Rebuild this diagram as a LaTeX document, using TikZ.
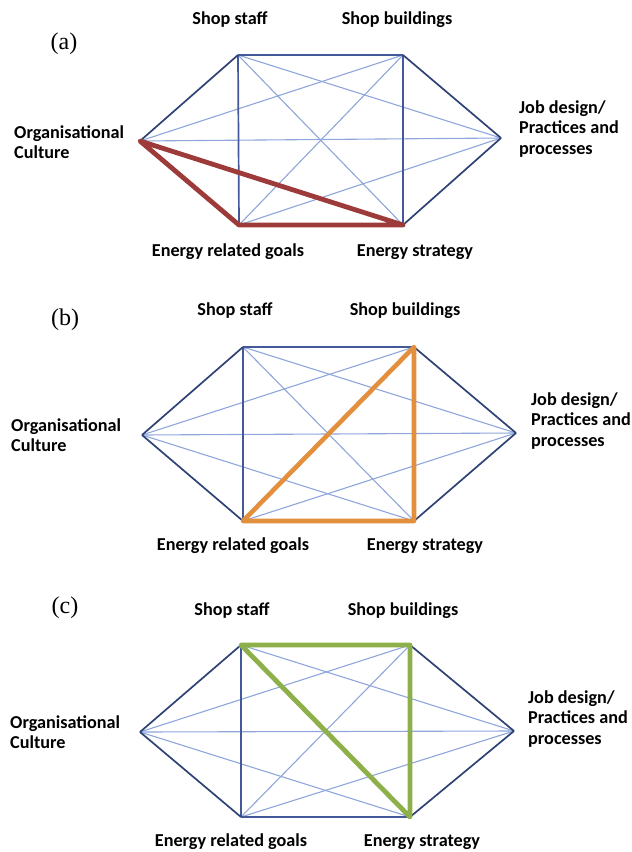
\documentclass[tikz,border=0pt]{standalone}
\usepackage{fontspec}
\setmainfont{Carlito}
\newfontfamily\panelfont{Liberation Serif}
\begin{document}
\begin{tikzpicture}[x=1pt,y=-1pt,
  outer/.style={draw=navyc,line width=1.7pt},
  side/.style={draw=sidec,line width=1.7pt},
  thin/.style={draw=lightc,line width=1.1pt},
  hlred/.style={draw=redc,line width=4.8pt,line cap=round,line join=round},
  hlorange/.style={draw=orangec,line width=4.6pt,line cap=round,line join=round},
  hlgreen/.style={draw=greenc,line width=4.8pt,line cap=round,line join=round},
  lbl/.style={font=\fontsize{18.2}{20.5}\selectfont\bfseries,inner sep=0pt},
  mlbl/.style={lbl,align=left,anchor=west},
  tag/.style={font=\panelfont\fontsize{24}{27}\selectfont,inner sep=0pt}]
\definecolor{navyc}{HTML}{2E4275}
\definecolor{sidec}{HTML}{44599A}
\definecolor{lightc}{HTML}{8EA6DA}
\definecolor{redc}{HTML}{9C3B3A}
\definecolor{orangec}{HTML}{E28F3E}
\definecolor{greenc}{HTML}{8DB04A}
\useasboundingbox (0,0) rectangle (632,852);
\newcommand{\drawgraph}[1]{%
  \draw[thin] (#1OC) -- (#1SB);
  \draw[thin] (#1OC) -- (#1JD);
  \draw[thin] (#1OC) -- (#1ES);
  \draw[thin] (#1SS) -- (#1ES);
  \draw[thin] (#1SS) -- (#1JD);
  \draw[thin] (#1SB) -- (#1EG);
  \draw[thin] (#1EG) -- (#1JD);
  \draw[side] (#1SS) -- (#1EG);
  \draw[side] (#1SB) -- (#1ES);
  \draw[side] (#1SS) -- (#1SB);
  \draw[side] (#1EG) -- (#1ES);
  \draw[outer] (#1OC) -- (#1SS);
  \draw[outer] (#1SB) -- (#1JD);
  \draw[outer] (#1JD) -- (#1ES);
  \draw[outer] (#1EG) -- (#1OC);
}
% ---------- panel (a)
\coordinate (aOC) at (140,141);
\coordinate (aSS) at (238,55);
\coordinate (aSB) at (403,55);
\coordinate (aJD) at (501,138);
\coordinate (aEG) at (239,225);
\coordinate (aES) at (403,225);
\drawgraph{a}
\draw[hlred] (aOC) -- (aEG) -- (aES) -- cycle;
\node[tag] (atag) at (64,44) {(a)};
\node[lbl] (aSSl) at (230,20) {Shop staff};
\node[lbl] (aSBl) at (397,20) {Shop buildings};
\node[mlbl] (aOCl) at (14,142) {Organisational\\Culture};
\node[mlbl] (aJDl) at (519,129) {Job design/\\Practices and\\processes};
\node[lbl] (aEGl) at (228,252) {Energy related goals};
\node[lbl] (aESl) at (415,252) {Energy strategy};
% ---------- panel (b)
\coordinate (bOC) at (142,435);
\coordinate (bSS) at (243,347);
\coordinate (bSB) at (414,347);
\coordinate (bJD) at (516,433);
\coordinate (bEG) at (243,521);
\coordinate (bES) at (414,521);
\drawgraph{b}
\draw[hlorange] (bEG) -- (bSB) -- (bES) -- cycle;
\node[tag] (btag) at (65,320) {(b)};
\node[lbl] (bSSl) at (235,311) {Shop staff};
\node[lbl] (bSBl) at (405,311) {Shop buildings};
\node[mlbl] (bOCl) at (11,435) {Organisational\\Culture};
\node[mlbl] (bJDl) at (531,421) {Job design/\\Practices and\\processes};
\node[lbl] (bEGl) at (233,546) {Energy related goals};
\node[lbl] (bESl) at (425,546) {Energy strategy};
% ---------- panel (c)
\coordinate (cOC) at (140,732);
\coordinate (cSS) at (241,645);
\coordinate (cSB) at (410,645);
\coordinate (cJD) at (514,731);
\coordinate (cEG) at (241,817);
\coordinate (cES) at (410,817);
\drawgraph{c}
\draw[hlgreen] (cSS) -- (cSB) -- (cES) -- cycle;
\node[tag] (ctag) at (65,608) {(c)};
\node[lbl] (cSSl) at (232,611) {Shop staff};
\node[lbl] (cSBl) at (403,611) {Shop buildings};
\node[mlbl] (cOCl) at (10,732) {Organisational\\Culture};
\node[mlbl] (cJDl) at (528,719) {Job design/\\Practices and\\processes};
\node[lbl] (cEGl) at (231,842) {Energy related goals};
\node[lbl] (cESl) at (422,842) {Energy strategy};
\end{tikzpicture}
\end{document}
